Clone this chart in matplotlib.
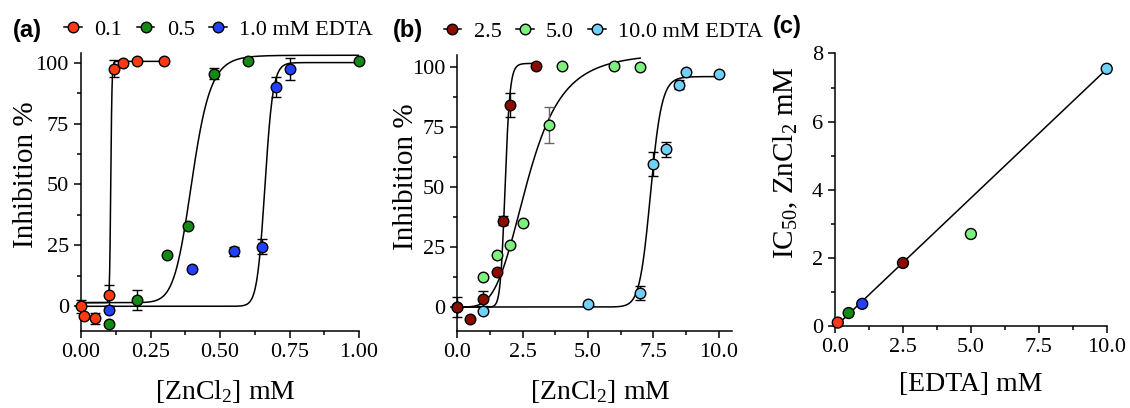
import numpy as np
import matplotlib
matplotlib.use('Agg')
import matplotlib.pyplot as plt
from matplotlib.lines import Line2D

plt.rcParams['font.family'] = ['Liberation Serif', 'DejaVu Serif']
plt.rcParams['mathtext.fontset'] = 'custom'
plt.rcParams['mathtext.rm'] = 'Liberation Serif'
plt.rcParams['mathtext.it'] = 'Liberation Serif:italic'

# ---- panel (a): 0.1 / 0.5 / 1.0 mM EDTA ----
red_x = [0, 0.01, 0.05, 0.1, 0.12, 0.15, 0.2, 0.3]
red_y = [0, -4, -5, 4.5, 97.5, 100, 100.5, 100.5]
red_e = [2.7, 0, 2.4, 4.4, 3.5, 0, 0, 0]

green_x = [0.1, 0.2, 0.31, 0.385, 0.48, 0.6, 1.0]
green_y = [-7.2, 2.5, 21, 33, 95.5, 100.5, 100.5]
green_e = [0, 4, 0, 0, 2.2, 0, 0]

blue_x = [0.1, 0.4, 0.55, 0.65, 0.7, 0.75]
blue_y = [-1.5, 15.5, 22.5, 24.5, 90, 97.5]
blue_e = [0, 0, 2, 3, 4, 4.5]

# fitted dose-response curves: bottom, top, IC50, hill, x max
fit_red = [1.5, 100.5, 0.107, 50, 0.3]
fit_green = [1.5, 103, 0.40, 12, 1.0]
fit_blue = [0, 100, 0.662, 46, 1.0]

# ---- panel (b): 2.5 / 5.0 / 10.0 mM EDTA ----
dred_x = [0, 0.5, 1.0, 1.5, 1.75, 2.0, 3.0]
dred_y = [0, -5, 3.5, 14.7, 36, 84, 100.5]
dred_e = [4, 0, 3, 0, 2, 5, 0]

lgreen_x = [0, 1.0, 1.5, 2.0, 2.5, 3.5, 4.0, 6.0, 7.0]
lgreen_y = [0, 12.5, 21.5, 26, 35, 76, 100.5, 100.5, 99.8]
lgreen_e = [0, 0, 0, 0, 0, 7.5, 0, 0, 0]

lblue_x = [1.0, 5.0, 7.0, 7.5, 8.0, 8.5, 8.75, 10.0]
lblue_y = [-1.8, 1.1, 5.8, 59.7, 65.7, 92.7, 97.9, 97.2]
lblue_e = [0, 0, 3, 5, 3, 2, 0, 0]

fit_dred = [0, 101.5, 1.83, 20, 3.0]
fit_lgreen = [0, 106, 2.7, 4, 7.0]
fit_lblue = [0, 96, 7.4, 35, 10.0]

# ---- panel (c): IC50 vs EDTA ----
edta = [0.1, 0.5, 1.0, 2.5, 5.0, 10.0]
ic50 = [0.1, 0.38, 0.65, 1.85, 2.7, 7.55]

c_red = '#ff3a12'
c_green = '#138a13'
c_blue = '#2440ff'
c_dred = '#8c0c00'
c_lgreen = '#7df07d'
c_lblue = '#70d0f6'
ic_colors = [c_red, c_green, c_blue, c_dred, c_lgreen, c_lblue]

def hill(p):
    b, t, x50, h, xmax = p
    x = np.linspace(0, xmax, 400)
    return x, b + (t - b) * x**h / (x**h + x50**h)

def series(ax, x, y, e, col, ecol='k'):
    ax.errorbar(x, y, yerr=e, fmt='o', ms=7.6, mfc=col, mec='k', mew=1.0,
                ecolor=ecol, elinewidth=1.0, capsize=3.5, capthick=1.0,
                clip_on=False, zorder=3)

def style(ax):
    for s in ['top', 'right']:
        ax.spines[s].set_visible(False)
    for s in ['left', 'bottom']:
        ax.spines[s].set_linewidth(1.1)
    ax.tick_params(which='major', length=4.8, width=1.1, labelsize=16, pad=4)
    ax.tick_params(which='minor', length=3, width=1.1)

fig = plt.figure(figsize=(11.3, 4.08), dpi=100)
axa = fig.add_axes([0.0717, 0.1895, 0.246, 0.681])
axb = fig.add_axes([0.4047, 0.1887, 0.2428, 0.6765])
axc = fig.add_axes([0.739, 0.201, 0.2404, 0.668])

# panel a
for p in [fit_red, fit_green, fit_blue]:
    xx, yy = hill(p)
    axa.plot(xx, yy, color='k', lw=1.1, zorder=2)
series(axa, red_x, red_y, red_e, c_red)
series(axa, green_x, green_y, green_e, c_green)
series(axa, blue_x, blue_y, blue_e, c_blue)
axa.set_xlim(0, 1.0)
axa.set_ylim(-10, 104)
axa.set_xticks([0, 0.25, 0.5, 0.75, 1.0])
axa.set_xticklabels(['0.00', '0.25', '0.50', '0.75', '1.00'])
axa.set_xticks(np.arange(0.125, 1.0, 0.25), minor=True)
axa.set_yticks([0, 25, 50, 75, 100])
axa.set_yticks([12.5, 37.5, 62.5, 87.5], minor=True)
style(axa)
axa.set_xlabel('[ZnCl$_2$] mM', fontsize=20)
axa.set_ylabel('Inhibition %', fontsize=21)
axa.xaxis.set_label_coords(0.52, -0.17)
axa.yaxis.set_label_coords(-0.15, 0.56)

# panel b
for p in [fit_dred, fit_lgreen, fit_lblue]:
    xx, yy = hill(p)
    axb.plot(xx, yy, color='k', lw=1.1, zorder=2)
series(axb, lblue_x, lblue_y, lblue_e, c_lblue)
series(axb, lgreen_x, lgreen_y, lgreen_e, c_lgreen, ecol='#666666')
series(axb, dred_x, dred_y, dred_e, c_dred)
axb.set_xlim(0, 10.5)
axb.set_ylim(-10, 105)
axb.set_xticks([0, 2.5, 5.0, 7.5, 10.0])
axb.set_xticklabels(['0.0', '2.5', '5.0', '7.5', '10.0'])
axb.set_xticks(np.arange(1.25, 10.5, 2.5), minor=True)
axb.set_yticks([0, 25, 50, 75, 100])
axb.set_yticks([12.5, 37.5, 62.5, 87.5], minor=True)
style(axb)
axb.set_xlabel('[ZnCl$_2$] mM', fontsize=20)
axb.set_ylabel('Inhibition %', fontsize=21)
axb.xaxis.set_label_coords(0.52, -0.17)
axb.yaxis.set_label_coords(-0.14, 0.56)

# panel c: linear fit without the 5.0 mM outlier
fx = [v for i, v in enumerate(edta) if i != 4]
fy = [v for i, v in enumerate(ic50) if i != 4]
k, b0 = np.polyfit(fx, fy, 1)
lx = np.array([edta[0], edta[-1]])
axc.plot(lx, k * lx + b0, color='k', lw=1.1, zorder=2)
axc.scatter(edta, ic50, s=62, c=ic_colors, edgecolors='k', linewidths=1.0,
            clip_on=False, zorder=3)
axc.set_xlim(0, 10)
axc.set_ylim(0, 8)
axc.set_xticks([0, 2.5, 5.0, 7.5, 10.0])
axc.set_xticklabels(['0.0', '2.5', '5.0', '7.5', '10.0'])
axc.set_xticks(np.arange(1.25, 10, 2.5), minor=True)
axc.set_yticks([0, 2, 4, 6, 8])
axc.set_yticks([1, 3, 5, 7], minor=True)
style(axc)
axc.set_xlabel('[EDTA] mM', fontsize=20)
axc.set_ylabel('IC$_{50}$, ZnCl$_2$ mM', fontsize=21)
axc.xaxis.set_label_coords(0.5, -0.17)
axc.yaxis.set_label_coords(-0.13, 0.60)

# legends
def handles(cols):
    return [Line2D([], [], color='k', lw=1.1, marker='o', ms=7.6,
                   mfc=c, mec='k', mew=1.0) for c in cols]

leg_kw = dict(ncol=3, frameon=False, fontsize=16, handlelength=0.8,
              handletextpad=0.55, columnspacing=0.65, borderpad=0,
              borderaxespad=0, loc='center left')
axa.legend(handles([c_red, c_green, c_blue]), ['0.1', '0.5', '1.0 mM EDTA'],
           bbox_to_anchor=(-0.06, 1.083), **leg_kw)
axb.legend(handles([c_dred, c_lgreen, c_lblue]), ['2.5', '5.0', '10.0 mM EDTA'],
           bbox_to_anchor=(-0.05, 1.085), **leg_kw)

for lbl, xp, yp in [('(a)', 13, 30), ('(b)', 393, 30), ('(c)', 773, 27)]:
    fig.text(xp / 1130, 1 - yp / 408, lbl, fontsize=17, fontweight='bold',
             family='Liberation Sans', va='center', ha='left')

fig.savefig('out.png', dpi=100)
